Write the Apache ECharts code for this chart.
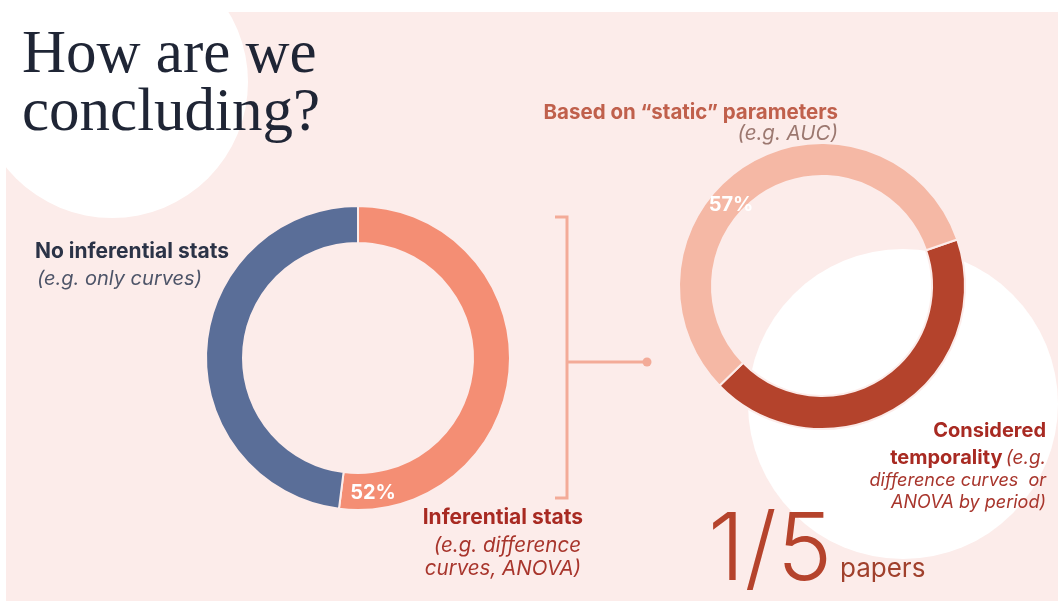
<!DOCTYPE html>
<html>
<head>
<meta charset="utf-8">
<script src="https://cdn.jsdelivr.net/npm/echarts@6/dist/echarts.min.js"></script>
<style>html,body{margin:0;padding:0;background:#fff}#c{width:1058px;height:601px}</style>
</head>
<body>
<div id="c"></div>
<script>
// Data
const leftCategories = ['Inferential stats', 'No inferential stats'];
const leftValues = [52, 48];
const rightCategories = ['Considered temporality', 'Based on "static" parameters'];
const rightValues = [43, 57];
const fractionText = ['1/5', 'papers'];

const chart = echarts.init(document.getElementById('c'), null, {renderer: 'canvas'});
const sans = 'Inter, "Noto Sans", sans-serif';

const option = {
  animation: false,
  backgroundColor: '#ffffff',
  graphic: [
    {type: 'rect', z: -10, shape: {x: 6, y: 12, width: 1052, height: 589}, style: {fill: '#fcecea'}, silent: true},
    {type: 'circle', z: -9, shape: {cx: 112, cy: 82, r: 136}, style: {fill: '#ffffff'}, silent: true},
    {type: 'rect', z: -9, shape: {x: 0, y: 0, width: 1058, height: 12}, style: {fill: '#ffffff'}, silent: true},
    {type: 'rect', z: -9, shape: {x: 0, y: 0, width: 6, height: 601}, style: {fill: '#ffffff'}, silent: true},
    {type: 'circle', z: -9, shape: {cx: 903, cy: 404, r: 155}, style: {fill: '#ffffff'}, silent: true},
    // title
    {type: 'text', z: 10, x: 22, y: 27, style: {text: 'How are we\nconcluding?', font: '400 61px "Liberation Serif", "DejaVu Serif", serif', lineHeight: 58, fill: '#1f2535', textVerticalAlign: 'top'}},
    // bracket
    {type: 'polyline', z: 5, shape: {points: [[555, 217], [567, 217], [567, 498], [555, 498]]}, style: {stroke: '#f3ab98', lineWidth: 3, fill: null}},
    {type: 'line', z: 5, shape: {x1: 567, y1: 362, x2: 647, y2: 362}, style: {stroke: '#f3ab98', lineWidth: 3}},
    {type: 'circle', z: 5, shape: {cx: 647, cy: 362, r: 4.5}, style: {fill: '#f3ab98'}},
    // left labels
    {type: 'text', z: 10, x: 35, y: 252, style: {text: leftCategories[1], font: '700 21px ' + sans, fill: '#2b3347', textVerticalAlign: 'middle'}},
    {type: 'text', z: 10, x: 37, y: 279, style: {text: '(e.g. only curves)', font: 'italic 400 20px ' + sans, fill: '#4d5468', textVerticalAlign: 'middle'}},
    {type: 'text', z: 10, x: 583, y: 518, style: {text: leftCategories[0], font: '700 21px ' + sans, fill: '#a82a22', textAlign: 'right', textVerticalAlign: 'middle'}},
    {type: 'text', z: 10, x: 581, y: 546, style: {text: '(e.g. difference', font: 'italic 400 20.5px ' + sans, fill: '#a8352c', textAlign: 'right', textVerticalAlign: 'middle'}},
    {type: 'text', z: 10, x: 581, y: 569, style: {text: 'curves, ANOVA)', font: 'italic 400 20.5px ' + sans, fill: '#a8352c', textAlign: 'right', textVerticalAlign: 'middle'}},
    {type: 'text', z: 10, x: 373, y: 493, style: {text: leftValues[0] + '%', font: '700 20px ' + sans, fill: '#ffffff', textAlign: 'center', textVerticalAlign: 'middle'}},
    // right labels
    {type: 'text', z: 10, x: 838, y: 113, style: {text: 'Based on \u201cstatic\u201d parameters', font: '700 20.5px ' + sans, fill: '#c0604c', textAlign: 'right', textVerticalAlign: 'middle'}},
    {type: 'text', z: 10, x: 838, y: 134, style: {text: '(e.g. AUC)', font: 'italic 400 20.5px ' + sans, fill: '#9c7870', textAlign: 'right', textVerticalAlign: 'middle'}},
    {type: 'text', z: 10, x: 731, y: 205, style: {text: rightValues[1] + '%', font: '700 20px ' + sans, fill: '#ffffff', textAlign: 'center', textVerticalAlign: 'middle'}},
    {type: 'text', z: 10, x: 1046, y: 431, style: {text: 'Considered', font: '700 20px ' + sans, fill: '#a82a22', textAlign: 'right', textVerticalAlign: 'middle'}},
    {type: 'text', z: 10, x: 1046, y: 458, style: {
      text: '{b|temporality} {i|(e.g.}', textAlign: 'right', textVerticalAlign: 'middle',
      rich: {b: {font: '700 20px ' + sans, fill: '#a82a22'}, i: {font: 'italic 400 19px ' + sans, fill: '#a8352c'}}
    }},
    {type: 'text', z: 10, x: 1046, y: 481, style: {text: 'difference curves  or', font: 'italic 400 18px ' + sans, fill: '#a8352c', textAlign: 'right', textVerticalAlign: 'middle'}},
    {type: 'text', z: 10, x: 1046, y: 503, style: {text: 'ANOVA by period)', font: 'italic 400 18px ' + sans, fill: '#a8352c', textAlign: 'right', textVerticalAlign: 'middle'}},
    // 1/5 papers
    {type: 'text', z: 10, x: 708, y: 552, style: {text: fractionText[0], font: '300 93px ' + sans, fill: '#b5432c', textVerticalAlign: 'middle'}},
    {type: 'text', z: 10, x: 840, y: 569, style: {text: fractionText[1], font: '400 26px ' + sans, fill: '#a0402c', textVerticalAlign: 'middle'}}
  ],
  series: [
    {
      type: 'pie', center: [358, 358], radius: [115, 152], startAngle: 90, clockwise: true,
      label: {show: false}, labelLine: {show: false}, silent: true,
      itemStyle: {borderColor: '#fcecea', borderWidth: 2},
      data: [
        {name: leftCategories[0], value: leftValues[0], itemStyle: {color: '#f48e74'}},
        {name: leftCategories[1], value: leftValues[1], itemStyle: {color: '#5a6e98'}}
      ]
    },
    {
      type: 'pie', center: [822, 286], radius: [110, 143], startAngle: 19, clockwise: true,
      label: {show: false}, labelLine: {show: false}, silent: true,
      itemStyle: {borderColor: '#fcecea', borderWidth: 2},
      data: [
        {name: rightCategories[0], value: rightValues[0], itemStyle: {color: '#b4432c'}},
        {name: rightCategories[1], value: rightValues[1], itemStyle: {color: '#f5b8a5'}}
      ]
    }
  ]
};
chart.setOption(option);
</script>
</body>
</html>
